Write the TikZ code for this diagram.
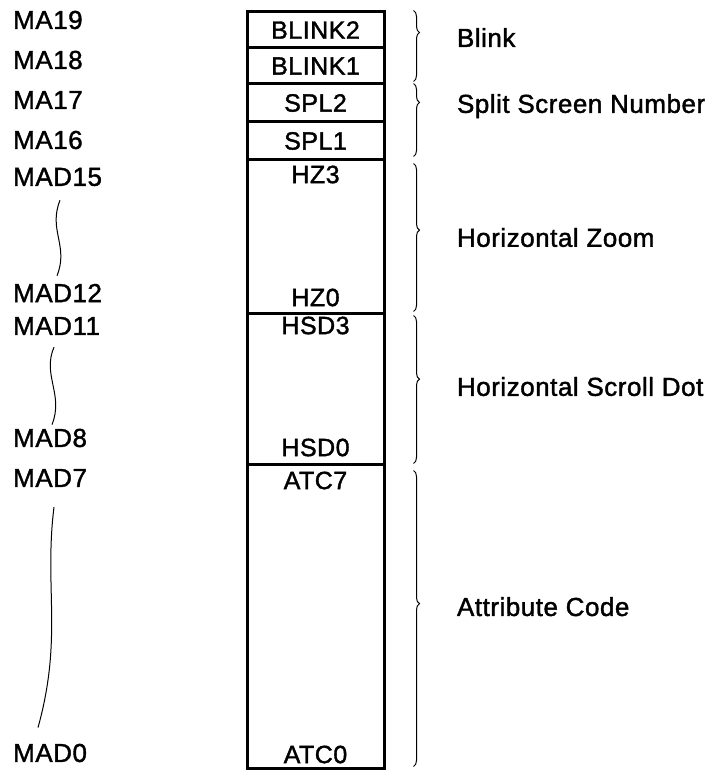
\documentclass[tikz,border=0pt]{standalone}
\usepackage{fontspec}
\setmainfont{Liberation Sans}[FakeBold=1.5, LetterSpace=2]
\usetikzlibrary{decorations.pathreplacing}

\tikzset{
  cell/.style={draw, line width=3pt, minimum width=137pt, inner sep=0pt,
    font=\fontsize{25}{30}\selectfont},
  bitname/.style={inner sep=0pt, font=\fontsize{25}{30}\selectfont},
  addr/.style={anchor=west, inner sep=0pt},
  field/.style={anchor=west, inner sep=0pt, xshift=43pt},
  grp/.style={decorate, decoration={brace, amplitude=6pt, aspect=#1}, line width=1pt},
  squiggle/.style={line width=1pt},
}

\begin{document}
\begin{tikzpicture}[x=1pt, y=-1pt, font=\fontsize{26}{30}\selectfont]
      \useasboundingbox (0,0) rectangle (710,770);
      % register cells
      \node[cell, minimum height=36pt] (blink2) at (315.5,30) {BLINK2};
      \node[cell, minimum height=36pt] (blink1) at (315.5,66) {BLINK1};
      \node[cell, minimum height=38pt] (spl2) at (315.5,103) {SPL2};
      \node[cell, minimum height=38pt] (spl1) at (315.5,141) {SPL1};
      \node[cell, minimum height=153pt] (hz) at (315.5,236.5) {};
      \node[cell, minimum height=151pt] (hsd) at (315.5,388.5) {};
      \node[cell, minimum height=304pt] (atc) at (315.5,616) {};
      \node[bitname] (hz3) at ([yshift=-16pt]hz.north) {HZ3};
      \node[bitname] (hz0) at ([yshift=17pt]hz.south) {HZ0};
      \node[bitname] (hsd3) at ([yshift=-14pt]hsd.north) {HSD3};
      \node[bitname] (hsd0) at ([yshift=18pt]hsd.south) {HSD0};
      \node[bitname] (atc7) at ([yshift=-18pt]atc.north) {ATC7};
      \node[bitname] (atc0) at ([yshift=15pt]atc.south) {ATC0};
      % address lines
      \foreach \n/\y in {MA19/20, MA18/60, MA17/100, MA16/140, MAD15/177,
        MAD12/293, MAD11/326, MAD8/438, MAD7/478, MAD0/753}
        \node[addr] (\n) at (13,\y) {\n};
      \draw[squiggle] ([xshift=47pt,yshift=-14pt]MAD15.south west)
        .. controls +(-12,30) and +(12,-30) .. ([xshift=44pt,yshift=8pt]MAD12.north west);
      \draw[squiggle] ([xshift=41pt,yshift=-12pt]MAD11.south west)
        .. controls +(-12,28) and +(12,-30) .. ([xshift=39pt,yshift=4pt]MAD8.north west);
      \draw[squiggle] ([xshift=41pt,yshift=-20pt]MAD7.south west)
        .. controls +(-10,80) and +(25,-90) .. ([xshift=25pt,yshift=16pt]MAD0.north west);
      % field braces
      \draw[grp=0.31] ([xshift=28pt]blink2.north east) -- node[field, pos=0.38] {Blink}
        ([xshift=28pt,yshift=4pt]blink1.south east);
      \draw[grp=0.26] ([xshift=28pt,yshift=-1pt]spl2.north east) -- node[field, pos=0.31] {Split Screen Number}
        ([xshift=28pt,yshift=5pt]spl1.south east);
      \draw[grp=0.45] ([xshift=28pt,yshift=-5pt]hz.north east) -- node[field, pos=0.5] {Horizontal Zoom}
        ([xshift=28pt,yshift=3pt]hz.south east);
      \draw[grp=0.43] ([xshift=28pt,yshift=-4pt]hsd.north east) -- node[field, pos=0.48] {Horizontal Scroll Dot}
        ([xshift=28pt,yshift=2pt]hsd.south east);
      \draw[grp=0.45] ([xshift=28pt,yshift=-8pt]atc.north east) -- node[field, pos=0.46] {Attribute Code}
        ([xshift=28pt,yshift=3pt]atc.south east);
    \end{tikzpicture}
\end{document}
